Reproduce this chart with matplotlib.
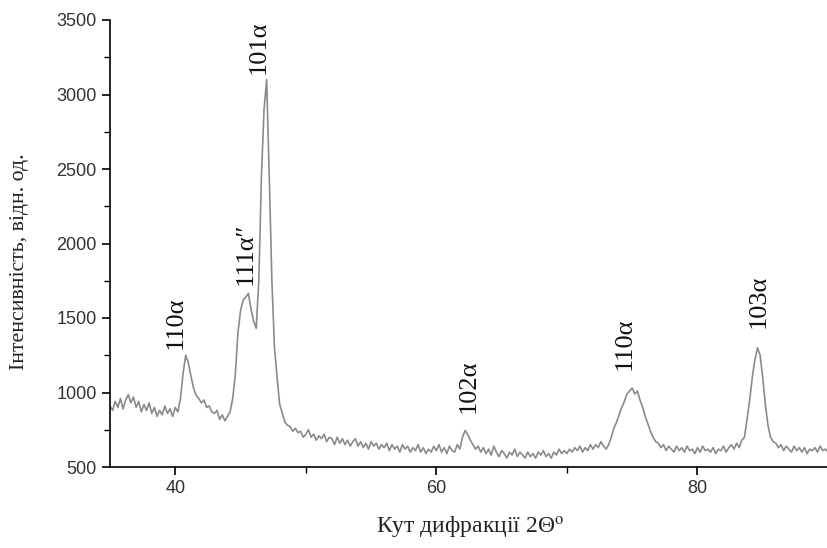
import numpy as np
import matplotlib
matplotlib.use('Agg')
import matplotlib.pyplot as plt
from matplotlib.ticker import MultipleLocator

# XRD scan: 2-theta from 35 to 90 deg, step 0.2 deg
two_theta_start = 35.0
two_theta_step = 0.2
intensity = [
    910, 880, 940, 900, 960,      # 35
    890, 950, 985, 930, 970,      # 36
    900, 940, 870, 920, 880,      # 37
    930, 860, 900, 840, 880,      # 38
    850, 910, 860, 890, 840,      # 39
    900, 870, 960, 1130, 1250,    # 40
    1200, 1110, 1030, 980, 960,   # 41
    930, 950, 900, 910, 870,      # 42
    860, 880, 820, 850, 810,      # 43
    840, 870, 960, 1120, 1400,    # 44
    1550, 1620, 1640, 1665, 1560, # 45
    1480, 1430, 1750, 2450, 2900, # 46
    3100, 2450, 1750, 1300, 1100, # 47
    920, 860, 800, 780, 770,      # 48
    740, 760, 730, 740, 700,      # 49
    720, 750, 700, 720, 680,      # 50
    710, 690, 720, 670, 700,      # 51
    690, 650, 700, 660, 690,      # 52
    650, 680, 640, 670, 690,      # 53
    640, 670, 630, 660, 620,      # 54
    670, 640, 660, 620, 650,      # 55
    630, 660, 610, 650, 620,      # 56
    640, 600, 650, 620, 640,      # 57
    600, 630, 610, 650, 600,      # 58
    630, 590, 620, 600, 640,      # 59
    610, 650, 600, 630, 590,      # 60
    640, 610, 600, 650, 620,      # 61
    700, 745, 720, 680, 650,      # 62
    620, 640, 600, 630, 590,      # 63
    620, 580, 640, 600, 570,      # 64
    610, 590, 560, 600, 580,      # 65
    620, 570, 600, 580, 560,      # 66
    600, 570, 590, 560, 600,      # 67
    580, 610, 570, 590, 560,      # 68
    600, 580, 620, 590, 610,      # 69
    590, 620, 600, 630, 610,      # 70
    640, 600, 630, 610, 650,      # 71
    620, 650, 630, 670, 640,      # 72
    620, 650, 700, 760, 800,      # 73
    850, 900, 940, 990, 1010,     # 74
    1030, 990, 1010, 950, 900,    # 75
    840, 790, 740, 700, 670,      # 76
    660, 630, 650, 610, 640,      # 77
    620, 600, 640, 610, 630,      # 78
    600, 640, 610, 620, 590,      # 79
    630, 600, 640, 610, 620,      # 80
    600, 630, 590, 620, 610,      # 81
    640, 600, 630, 650, 620,      # 82
    660, 630, 680, 700, 820,      # 83
    950, 1100, 1220, 1300, 1250,  # 84
    1100, 920, 780, 700, 670,     # 85
    660, 630, 650, 610, 640,      # 86
    620, 600, 640, 610, 630,      # 87
    600, 630, 590, 620, 610,      # 88
    630, 600, 640, 610, 620,      # 89
    600,                          # 90
]
two_theta = two_theta_start + two_theta_step * np.arange(len(intensity))

# peak labels: (text, x, y of label bottom)
peak_names = ['110α', '111α\u2033', '101α', '102α', '110α', '103α']
peak_x = [40.0, 45.36, 46.4, 62.5, 74.4, 84.7]
peak_y = [1290, 1720, 3140, 860, 1150, 1430]

serif = ['Liberation Serif', 'DejaVu Serif']
plt.rcParams['font.family'] = ['Liberation Sans', 'DejaVu Sans']
plt.rcParams['mathtext.fontset'] = 'stix'

fig = plt.figure(figsize=(8.28, 5.48), dpi=100)
ax = fig.add_axes([110 / 828, 1 - 467 / 548, 718 / 828, 447 / 548])

ax.plot(two_theta, intensity, color='#8a8a8a', lw=1.2)

for name, x, y in zip(peak_names, peak_x, peak_y):
    ax.text(x, y, name, rotation=90, ha='center', va='bottom',
            fontsize=19, family=serif, color='#111111')

ax.set_xlim(35, 90)
ax.set_ylim(500, 3500)
ax.xaxis.set_major_locator(MultipleLocator(20))
ax.xaxis.set_minor_locator(MultipleLocator(10))
ax.yaxis.set_major_locator(MultipleLocator(500))
ax.yaxis.set_minor_locator(MultipleLocator(250))
ax.tick_params(which='major', direction='out', length=6, width=1.2,
               labelsize=13, labelcolor='#333333')
ax.tick_params(which='minor', direction='out', length=4, width=1.0)

for side in ('top', 'right'):
    ax.spines[side].set_visible(False)
for side in ('left', 'bottom'):
    ax.spines[side].set_linewidth(1.2)

fig.text(20 / 828, 1 - 262 / 548, 'Інтенсивність, відн. од.', rotation=90,
         ha='center', va='center', fontsize=15.7, family=serif, color='#222222')
fig.text(470 / 828, 1 - 528 / 548, 'Кут дифракції 2Θ$^{\\mathrm{o}}$',
         ha='center', va='center', fontsize=17, family=serif, color='#222222')

fig.savefig('out.png', dpi=100)
